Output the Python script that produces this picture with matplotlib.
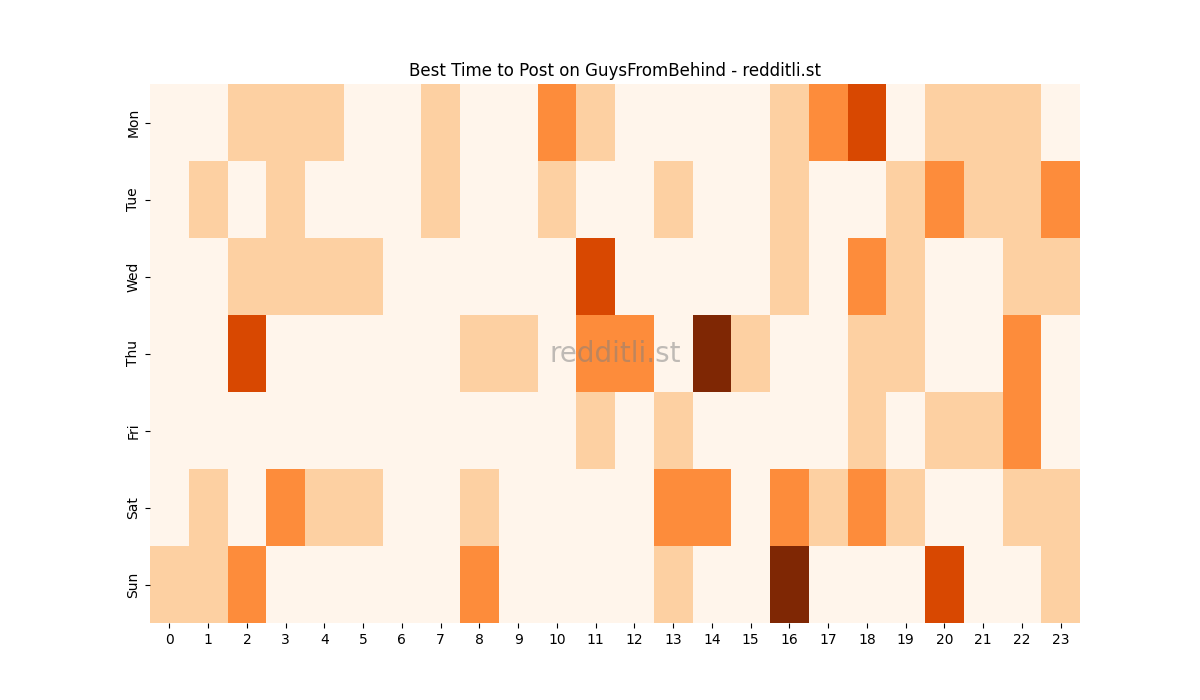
import matplotlib
matplotlib.use('Agg')
import matplotlib.pyplot as plt
import numpy as np
import seaborn as sns

days = ['Mon', 'Tue', 'Wed', 'Thu', 'Fri', 'Sat', 'Sun']
hours = list(range(24))

mon = [0, 0, 1, 1, 1, 0, 0, 1, 0, 0, 2, 1, 0, 0, 0, 0, 1, 2, 3, 0, 1, 1, 1, 0]
tue = [0, 1, 0, 1, 0, 0, 0, 1, 0, 0, 1, 0, 0, 1, 0, 0, 1, 0, 0, 1, 2, 1, 1, 2]
wed = [0, 0, 1, 1, 1, 1, 0, 0, 0, 0, 0, 3, 0, 0, 0, 0, 1, 0, 2, 1, 0, 0, 1, 1]
thu = [0, 0, 3, 0, 0, 0, 0, 0, 1, 1, 0, 2, 2, 0, 4, 1, 0, 0, 1, 1, 0, 0, 2, 0]
fri = [0, 0, 0, 0, 0, 0, 0, 0, 0, 0, 0, 1, 0, 1, 0, 0, 0, 0, 1, 0, 1, 1, 2, 0]
sat = [0, 1, 0, 2, 1, 1, 0, 0, 1, 0, 0, 0, 0, 2, 2, 0, 2, 1, 2, 1, 0, 0, 1, 1]
sun = [1, 1, 2, 0, 0, 0, 0, 0, 2, 0, 0, 0, 0, 1, 0, 0, 4, 0, 0, 0, 3, 0, 0, 1]

grid = np.array([mon, tue, wed, thu, fri, sat, sun])

fig = plt.figure(figsize=(12, 7), dpi=100)
ax = sns.heatmap(grid, cmap='Oranges', vmin=0, vmax=4, cbar=False,
                 xticklabels=hours, yticklabels=days)
ax.set_yticklabels(days, rotation=90, va='center')
ax.set_xticklabels(hours, rotation=0)
ax.set_title('Best Time to Post on GuysFromBehind - redditli.st')
ax.text(0.5, 0.5, 'redditli.st', transform=ax.transAxes, fontsize=20,
        color='gray', alpha=0.5, ha='center', va='center')

fig.savefig('out.png', dpi=100)
